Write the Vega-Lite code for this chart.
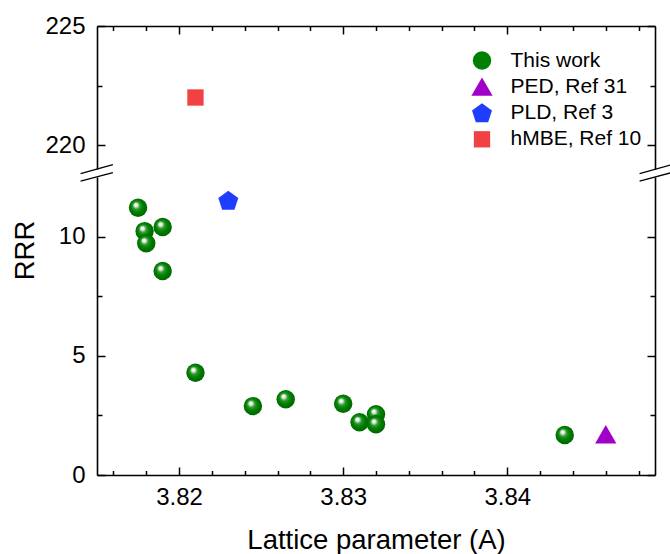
{
  "$schema": "https://vega.github.io/schema/vega-lite/v6.json",
  "padding": {"left": 11, "top": 14, "right": 0, "bottom": 0},
  "bounds": "flush",
  "spacing": 8,
  "datasets": {
    "pts": [
      {"series": "This work", "a": 3.8175, "rrr": 11.21},
      {"series": "This work", "a": 3.8179, "rrr": 10.23},
      {"series": "This work", "a": 3.818, "rrr": 9.72},
      {"series": "This work", "a": 3.819, "rrr": 10.4},
      {"series": "This work", "a": 3.819, "rrr": 8.56},
      {"series": "This work", "a": 3.821, "rrr": 4.29},
      {"series": "This work", "a": 3.8245, "rrr": 2.89},
      {"series": "This work", "a": 3.8265, "rrr": 3.18},
      {"series": "This work", "a": 3.83, "rrr": 2.99},
      {"series": "This work", "a": 3.831, "rrr": 2.21},
      {"series": "This work", "a": 3.832, "rrr": 2.55},
      {"series": "This work", "a": 3.832, "rrr": 2.13},
      {"series": "This work", "a": 3.8435, "rrr": 1.68},
      {"series": "PED, Ref 31", "a": 3.846, "rrr": 1.71},
      {"series": "PLD, Ref 3", "a": 3.823, "rrr": 11.52},
      {"series": "hMBE, Ref 10", "a": 3.821, "rrr": 222.0}
    ],
    "brk": [
      {"panel": "upper", "x1": 3.814, "x2": 3.81597, "y1": 218.81, "y2": 219.18},
      {"panel": "upper", "x1": 3.84806, "x2": 3.84999, "y1": 218.81, "y2": 219.18},
      {"panel": "lower", "x1": 3.814, "x2": 3.81597, "y1": 12.33, "y2": 12.68},
      {"panel": "lower", "x1": 3.84806, "x2": 3.84999, "y1": 12.33, "y2": 12.68}
    ]
  },
  "resolve": {"scale": {"x": "independent", "y": "independent", "color": "shared", "shape": "shared", "size": "shared"}},
  "vconcat": [
    {
      "width": 558,
      "height": 143,
      "resolve": {"axis": {"x": "independent", "y": "independent"}},
      "layer": [
        {
          "data": {"name": "pts"},
          "transform": [{"filter": "datum.rrr > 100"}],
          "mark": {"type": "point", "filled": true, "opacity": 1},
          "encoding": {
            "x": {"field": "a", "type": "quantitative", "scale": {"domain": [3.815, 3.849], "nice": false, "zero": false},
              "axis": {"orient": "top", "values": [3.82, 3.83, 3.84], "labels": false, "tickSize": -8, "title": null, "domain": true}},
            "y": {"field": "rrr", "type": "quantitative", "scale": {"domain": [219, 225], "nice": false, "zero": false},
              "axis": {"orient": "left", "values": [220, 225], "tickSize": -8, "labelPadding": 20, "title": null, "domain": true}},
            "color": {"field": "series", "type": "nominal", "title": null,
              "scale": {"domain": ["This work", "PED, Ref 31", "PLD, Ref 3", "hMBE, Ref 10"], "range": ["#008000", "#a000c8", "#1f3dff", "#f04242"]}},
            "shape": {"field": "series", "type": "nominal", "title": null,
              "scale": {"domain": ["This work", "PED, Ref 31", "PLD, Ref 3", "hMBE, Ref 10"], "range": ["circle", "triangle-up", "M0,-0.905L0.951,-0.214L0.588,0.904L-0.588,0.904L-0.951,-0.214Z", "square"]}},
            "size": {"field": "series", "type": "nominal", "title": null,
              "scale": {"type": "ordinal", "domain": ["This work", "PED, Ref 31", "PLD, Ref 3", "hMBE, Ref 10"], "range": [340, 450, 440, 266]}}
          }
        },
        {
          "data": {"name": "pts"},
          "transform": [{"filter": "datum.rrr > 100"}],
          "mark": {"type": "point", "opacity": 0},
          "encoding": {
            "x": {"field": "a", "type": "quantitative", "scale": {"domain": [3.815, 3.849], "nice": false, "zero": false},
              "axis": {"orient": "top", "values": [3.816, 3.818, 3.822, 3.824, 3.826, 3.828, 3.832, 3.834, 3.836, 3.838, 3.842, 3.844, 3.846, 3.848], "labels": false, "tickSize": -4.5, "title": null, "domain": false}},
            "y": {"field": "rrr", "type": "quantitative", "scale": {"domain": [219, 225], "nice": false, "zero": false},
              "axis": {"orient": "right", "values": [220, 225], "labels": false, "tickSize": -8, "title": null, "domain": true}}
          }
        },
        {
          "data": {"name": "pts"},
          "transform": [{"filter": "datum.rrr > 100"}],
          "mark": {"type": "point", "opacity": 0},
          "encoding": {
            "x": {"field": "a", "type": "quantitative", "axis": null},
            "y": {"field": "rrr", "type": "quantitative",
              "axis": {"orient": "left", "values": [222.5], "labels": false, "tickSize": -5, "title": null, "domain": false}}
          }
        },
        {
          "data": {"name": "pts"},
          "transform": [{"filter": "datum.rrr > 100"}],
          "mark": {"type": "point", "opacity": 0},
          "encoding": {
            "x": {"field": "a", "type": "quantitative", "axis": null},
            "y": {"field": "rrr", "type": "quantitative",
              "axis": {"orient": "right", "values": [222.5], "labels": false, "tickSize": -5, "title": null, "domain": false}}
          }
        },
        {
          "data": {"name": "brk"},
          "transform": [{"filter": "datum.panel === 'upper'"}],
          "mark": {"type": "rule", "color": "black", "strokeWidth": 1.3, "clip": false},
          "encoding": {
            "x": {"field": "x1", "type": "quantitative", "axis": null},
            "x2": {"field": "x2"},
            "y": {"field": "y1", "type": "quantitative", "axis": null},
            "y2": {"field": "y2"}
          }
        }
      ]
    },
    {
      "width": 558,
      "height": 298,
      "resolve": {"axis": {"x": "independent", "y": "independent"}},
      "layer": [
        {
          "data": {"name": "pts"},
          "transform": [{"filter": "datum.series === 'This work'"}],
          "mark": {"type": "point", "filled": true, "opacity": 1,
            "fill": {"gradient": "radial", "x1": 0.36, "y1": 0.32, "r1": 0, "x2": 0.5, "y2": 0.5, "r2": 0.55,
              "stops": [{"offset": 0, "color": "#ffffff"}, {"offset": 0.16, "color": "#e8f4e8"}, {"offset": 0.36, "color": "#2e982e"}, {"offset": 0.6, "color": "#008000"}, {"offset": 1, "color": "#006000"}]}},
          "encoding": {
            "x": {"field": "a", "type": "quantitative", "scale": {"domain": [3.815, 3.849], "nice": false, "zero": false},
              "axis": {"orient": "bottom", "values": [3.82, 3.83, 3.84], "format": ".2f", "tickSize": -8, "labelPadding": 18, "title": "Lattice parameter (A)", "titleY": 73, "titleBaseline": "alphabetic", "domain": true}},
            "y": {"field": "rrr", "type": "quantitative", "scale": {"domain": [0, 12.5], "nice": false, "zero": false},
              "axis": {"orient": "left", "values": [0, 5, 10], "tickSize": -8, "labelPadding": 20, "title": "RRR", "titleX": -64, "titleY": 73, "titleAngle": -90, "titleAlign": "center", "titleBaseline": "alphabetic", "domain": true}},
            "shape": {"field": "series", "type": "nominal", "title": null,
              "scale": {"domain": ["This work", "PED, Ref 31", "PLD, Ref 3", "hMBE, Ref 10"], "range": ["circle", "triangle-up", "M0,-0.905L0.951,-0.214L0.588,0.904L-0.588,0.904L-0.951,-0.214Z", "square"]}},
            "size": {"field": "series", "type": "nominal", "title": null,
              "scale": {"type": "ordinal", "domain": ["This work", "PED, Ref 31", "PLD, Ref 3", "hMBE, Ref 10"], "range": [340, 450, 440, 266]}}
          }
        },
        {
          "data": {"name": "pts"},
          "transform": [{"filter": "datum.series !== 'This work' && datum.rrr < 100"}],
          "mark": {"type": "point", "filled": true, "opacity": 1},
          "encoding": {
            "x": {"field": "a", "type": "quantitative", "axis": null},
            "y": {"field": "rrr", "type": "quantitative", "axis": null},
            "color": {"field": "series", "type": "nominal", "title": null,
              "scale": {"domain": ["This work", "PED, Ref 31", "PLD, Ref 3", "hMBE, Ref 10"], "range": ["#008000", "#a000c8", "#1f3dff", "#f04242"]}},
            "shape": {"field": "series", "type": "nominal", "title": null,
              "scale": {"domain": ["This work", "PED, Ref 31", "PLD, Ref 3", "hMBE, Ref 10"], "range": ["circle", "triangle-up", "M0,-0.905L0.951,-0.214L0.588,0.904L-0.588,0.904L-0.951,-0.214Z", "square"]}},
            "size": {"field": "series", "type": "nominal", "title": null,
              "scale": {"type": "ordinal", "domain": ["This work", "PED, Ref 31", "PLD, Ref 3", "hMBE, Ref 10"], "range": [340, 450, 440, 266]}}
          }
        },
        {
          "data": {"name": "pts"},
          "transform": [{"filter": "datum.rrr < 100"}],
          "mark": {"type": "point", "opacity": 0},
          "encoding": {
            "x": {"field": "a", "type": "quantitative",
              "axis": {"orient": "bottom", "values": [3.816, 3.818, 3.822, 3.824, 3.826, 3.828, 3.832, 3.834, 3.836, 3.838, 3.842, 3.844, 3.846, 3.848], "labels": false, "tickSize": -4.5, "title": null, "domain": false}},
            "y": {"field": "rrr", "type": "quantitative",
              "axis": {"orient": "right", "values": [0, 5, 10], "labels": false, "tickSize": -8, "title": null, "domain": true}}
          }
        },
        {
          "data": {"name": "pts"},
          "transform": [{"filter": "datum.rrr < 100"}],
          "mark": {"type": "point", "opacity": 0},
          "encoding": {
            "x": {"field": "a", "type": "quantitative", "axis": null},
            "y": {"field": "rrr", "type": "quantitative",
              "axis": {"orient": "left", "values": [2.5, 7.5], "labels": false, "tickSize": -5, "title": null, "domain": false}}
          }
        },
        {
          "data": {"name": "pts"},
          "transform": [{"filter": "datum.rrr < 100"}],
          "mark": {"type": "point", "opacity": 0},
          "encoding": {
            "x": {"field": "a", "type": "quantitative", "axis": null},
            "y": {"field": "rrr", "type": "quantitative",
              "axis": {"orient": "right", "values": [2.5, 7.5], "labels": false, "tickSize": -5, "title": null, "domain": false}}
          }
        },
        {
          "data": {"name": "brk"},
          "transform": [{"filter": "datum.panel === 'lower'"}],
          "mark": {"type": "rule", "color": "black", "strokeWidth": 1.3, "clip": false},
          "encoding": {
            "x": {"field": "x1", "type": "quantitative", "axis": null},
            "x2": {"field": "x2"},
            "y": {"field": "y1", "type": "quantitative", "axis": null},
            "y2": {"field": "y2"}
          }
        }
      ]
    }
  ],
  "config": {
    "view": {"stroke": null},
    "font": "Liberation Sans",
    "axis": {
      "labelFont": "Liberation Sans", "titleFont": "Liberation Sans",
      "labelFontSize": 24, "titleFontSize": 27.5, "titleFontWeight": "normal",
      "labelColor": "black", "titleColor": "black",
      "domainColor": "black", "tickColor": "black",
      "domainWidth": 1.6, "tickWidth": 1.5, "grid": false
    },
    "legend": {
      "orient": "none", "legendX": 374, "legendY": 24,
      "padding": 0, "labelFont": "Liberation Sans", "labelFontSize": 21, "labelColor": "black",
      "labelOffset": 17.5, "rowPadding": 4.6, "symbolStrokeWidth": 0
    }
  }
}
